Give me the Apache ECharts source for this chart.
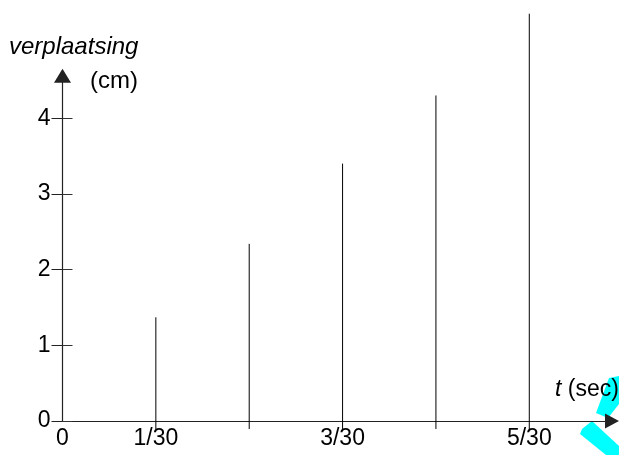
<!DOCTYPE html>
<html>
<head>
<meta charset="utf-8">
<script src="https://cdn.jsdelivr.net/npm/echarts@6/dist/echarts.min.js"></script>
<style>
html,body{margin:0;padding:0;background:#fff;}
#chart{width:619px;height:455px;}
</style>
</head>
<body>
<div id="chart"></div>
<script>
// Data (time in units of 1/30 s, displacement in cm)
const xValues = [1, 2, 3, 4, 5];
const displacement = [1.37, 2.34, 3.40, 4.30, 5.38];
const xTickValues = [0, 1, 2, 3, 4, 5];
const xTickLabels = ['0', '1/30', '', '3/30', '', '5/30'];
const yTickValues = [0, 1, 2, 3, 4];
const yTickLabels = ['0', '1', '2', '3', '4'];
const yAxisTitle = 'verplaatsing';
const yAxisUnit = '(cm)';
const xAxisVar = 't';
const xAxisUnit = ' (sec)';

const FONT = '"Liberation Sans", Arial, sans-serif';
const chart = echarts.init(document.getElementById('chart'), null, {renderer: 'canvas'});

const seriesData = xValues.map((x, i) => [x, displacement[i]]);

const option = {
  animation: false,
  backgroundColor: '#fff',
  grid: {left: 62.5, right: 7, top: 75.8, bottom: 34, containLabel: false},
  xAxis: {
    type: 'value', min: 0, max: 5.886, interval: 1,
    axisLine: {show: true, symbol: ['none', 'triangle'], symbolSize: [15, 14],
      lineStyle: {color: '#222', width: 1.2}},
    axisTick: {show: false},
    splitLine: {show: false},
    axisLabel: {
      customValues: xTickValues,
      formatter: v => (xTickLabels[Math.round(v)] ?? ''),
      margin: 6, fontSize: 23, color: '#000', fontFamily: FONT
    }
  },
  yAxis: [{
    type: 'value', min: 0, max: 4.56, interval: 1, position: 'left', offset: 0,
    axisLine: {show: true, symbol: ['none', 'triangle'], symbolSize: [17, 14],
      lineStyle: {color: '#222', width: 1.2}},
    axisTick: {show: true, customValues: yTickValues, length: 11, lineStyle: {color: '#222'}},
    splitLine: {show: false},
    axisLabel: {
      customValues: yTickValues,
      formatter: v => (yTickLabels[Math.round(v)] ?? ''),
      margin: 12, fontSize: 23, color: '#000', fontFamily: FONT
    }
  }, {
    type: 'value', min: 0, max: 4.56, interval: 1, position: 'left', offset: 0,
    axisLine: {show: false},
    axisTick: {show: true, inside: true, customValues: yTickValues, length: 10, lineStyle: {color: '#333'}},
    axisLabel: {show: false},
    splitLine: {show: false}
  }],
  graphic: [
    {type: 'polygon', z: -10, shape: {points: [[609, 378], [619, 376], [619, 404], [608, 418], [596, 413]]},
      style: {fill: '#00ffff'}},
    {type: 'polygon', z: -10, shape: {points: [[582, 429], [592, 421], [619, 446], [619, 455], [606, 455], [580, 434]]},
      style: {fill: '#00ffff'}},
    {type: 'text', z: 10, style: {x: 9, y: 47, text: yAxisTitle, fill: '#000',
      font: 'italic 24px ' + FONT, align: 'left', verticalAlign: 'middle'}},
    {type: 'text', z: 10, style: {x: 90, y: 81, text: yAxisUnit, fill: '#000',
      font: '24px ' + FONT, align: 'left', verticalAlign: 'middle'}},
    {type: 'text', z: 10, style: {x: 555, y: 390, text: '{i|' + xAxisVar + '}{n|' + xAxisUnit + '}', fill: '#000',
      align: 'left', verticalAlign: 'middle',
      rich: {i: {font: 'italic 23px ' + FONT, fill: '#000'}, n: {font: '23px ' + FONT, fill: '#000'}}}}
  ],
  series: [{
    type: 'custom',
    xAxisIndex: 0, yAxisIndex: 0,
    clip: false,
    encode: {x: 0, y: 1},
    data: seriesData,
    renderItem: function (params, api) {
      const x = api.value(0), v = api.value(1);
      const base = api.coord([x, 0]);
      const top = api.coord([x, v]);
      return {
        type: 'line',
        shape: {x1: base[0], y1: base[1] + 8, x2: top[0], y2: top[1]},
        style: {stroke: '#000', lineWidth: 1}
      };
    }
  }]
};
chart.setOption(option);
</script>
</body>
</html>
